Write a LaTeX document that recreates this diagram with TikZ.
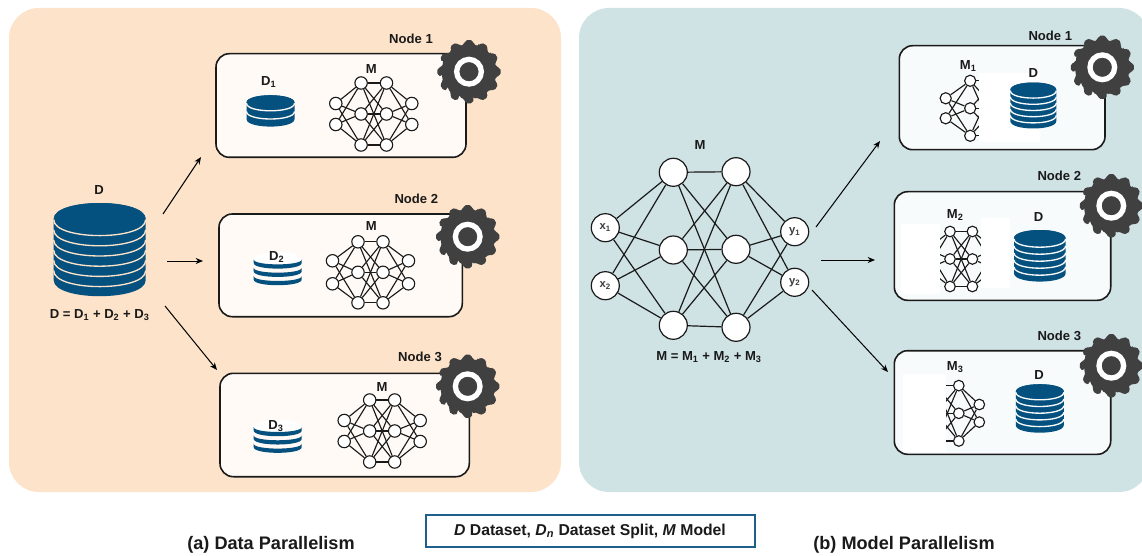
\documentclass[tikz,border=0pt]{standalone}
\usepackage{fontspec}
\setmainfont{Liberation Sans}
\usetikzlibrary{arrows.meta}
\definecolor{panelL}{HTML}{FDE3CA}
\definecolor{panelR}{HTML}{CFE2E4}
\definecolor{boxL}{HTML}{FFFAF6}
\definecolor{boxR}{HTML}{F8FBFB}
\definecolor{dbblue}{HTML}{04507F}
\definecolor{gearc}{HTML}{404040}
\definecolor{inkc}{HTML}{1A1A1A}
\definecolor{legendc}{HTML}{1F5F8B}
\tikzset{
  panel/.style={rectangle,rounded corners=22.5pt,inner sep=0pt,outer sep=0pt},
  nodebox/.style={rectangle,rounded corners=10pt,draw=inkc,line width=1.2pt,inner sep=0pt},
  neuron/.style={circle,draw=inkc,fill=white,inner sep=0pt},
  synapse/.style={draw=inkc},
  lab/.style={font=\bfseries\fontsize{9.8}{11}\selectfont,text=inkc,inner sep=0pt,anchor=center},
  captiontext/.style={font=\bfseries\fontsize{13.6}{16}\selectfont,text=inkc,inner sep=0pt},
  iolabel/.style={font=\bfseries\fontsize{8.4}{10}\selectfont,text=inkc!85!white,inner sep=0pt},
  flow/.style={draw=black,line width=0.75pt,-{Stealth[length=5.5pt,width=4.5pt]}},
  maskrect/.style={fill=white,draw=none},
}
% box from corner coordinates
\newcommand{\mybox}[7]{% name, x1,y1,x2,y2, fill, style
  \pgfmathsetmacro{\bw}{(#4-#2)*0.75}\pgfmathsetmacro{\bh}{(#5-#3)*0.75}
  \node[#7,fill=#6,minimum width=\bw pt,minimum height=\bh pt] (#1) at ({(#2+#4)/2},{(#3+#5)/2}) {};
}
% network: prefix, cx, cy, hx (inner half gap), ox (outer), vy (vertical), sy (side half), radius, line width
\newcommand{\mynet}[9]{%
  \pgfmathsetmacro{\nd}{#8*1.5}
  \begin{scope}[every node/.style={neuron,minimum size=\nd pt,line width=#9}]
    \node (#1a1) at ({#2-#5},{#3-#7}) {};
    \node (#1a2) at ({#2-#5},{#3+#7}) {};
    \node (#1b1) at ({#2-#4},{#3-#6}) {};
    \node (#1b2) at ({#2-#4},{#3}) {};
    \node (#1b3) at ({#2-#4},{#3+#6}) {};
    \node (#1c1) at ({#2+#4},{#3-#6}) {};
    \node (#1c2) at ({#2+#4},{#3}) {};
    \node (#1c3) at ({#2+#4},{#3+#6}) {};
    \node (#1d1) at ({#2+#5},{#3-#7}) {};
    \node (#1d2) at ({#2+#5},{#3+#7}) {};
  \end{scope}
  \foreach \p/\qlist in {a1/{b1,b2,b3},a2/{b1,b2,b3},b1/{c1,c2,c3},b2/{c1,c2,c3},b3/{c1,c2,c3},c1/{d1,d2},c2/{d1,d2},c3/{d1,d2}}{
    \foreach \q in \qlist { \draw[synapse,line width=#9] (#1\p) -- (#1\q); }
  }
}
% cylinder: cx, cy, rx, ry, n, spacing, top fill, separator colour
\newcommand{\mycyl}[8]{%
  \pgfmathsetmacro{\cyb}{#2+#5*#6}
  \pgfmathsetmacro{\cyk}{#4*1.333}
  \fill[dbblue] ({#1-#3},{#2}) .. controls ({#1-#3},{#2-\cyk}) and ({#1+#3},{#2-\cyk}) .. ({#1+#3},{#2})
     -- ({#1+#3},{\cyb}) .. controls ({#1+#3},{\cyb+\cyk}) and ({#1-#3},{\cyb+\cyk}) .. ({#1-#3},{\cyb}) -- cycle;
  \fill[#7] ({#1-#3},{#2}) .. controls ({#1-#3},{#2-\cyk}) and ({#1+#3},{#2-\cyk}) .. ({#1+#3},{#2})
     .. controls ({#1+#3},{#2+\cyk}) and ({#1-#3},{#2+\cyk}) .. ({#1-#3},{#2}) -- cycle;
  \pgfmathtruncatemacro{\cyl}{#5-1}
  \foreach \i in {0,...,\cyl}{
    \pgfmathsetmacro{\yy}{#2+\i*#6+0.6}
    \draw[#8,line width=1pt] ({#1-#3},{\yy}) .. controls ({#1-#3},{\yy+\cyk}) and ({#1+#3},{\yy+\cyk}) .. ({#1+#3},{\yy});
  }
}
% pale stack: white top and three blue crescents. cx, cy of top
\newcommand{\mybands}[2]{%
  \fill[white] ({#1-24},{#2}) .. controls ({#1-24},{#2-10.6}) and ({#1+24},{#2-10.6}) .. ({#1+24},{#2})
     .. controls ({#1+24},{#2+10.6}) and ({#1-24},{#2+10.6}) .. ({#1-24},{#2}) -- cycle;
  \foreach \i in {0,1,2}{
    \pgfmathsetmacro{\yy}{#2+3+\i*8.3}
    \fill[dbblue] ({#1-24},{\yy}) .. controls ({#1-24},{\yy+7.5}) and ({#1+24},{\yy+7.5}) .. ({#1+24},{\yy})
       -- ({#1+24},{\yy-3.5}) .. controls ({#1+24},{\yy+3}) and ({#1-24},{\yy+3}) .. ({#1-24},{\yy-3.5}) -- cycle;
  }
}
% gear: name, cx, cy
\newcommand{\mygear}[3]{%
  \begin{scope}[shift={(#2,#3)}]
    \fill[gearc,rounded corners=1.5pt] (-10:27.5) foreach \a in {0,30,...,330}{
        -- ({\a-9.5}:27.5) -- ({\a-7}:31.8) -- ({\a+7}:31.8) -- ({\a+9.5}:27.5) -- ({\a+20.5}:27.5)
      } -- cycle;
    \node[circle,draw=white,line width=4pt,fill=gearc,minimum size=18.5pt,inner sep=0pt] (#1) at (0,0) {};
  \end{scope}
}
\begin{document}
\begin{tikzpicture}[x=0.75pt,y=-0.75pt]
\useasboundingbox (0,0) rectangle (1142,556);
\fill[white] (0,0) rectangle (1142,556);
\mybox{panelA}{9}{8}{561}{492}{panelL}{panel}
\mybox{panelB}{579}{8}{1149}{492}{panelR}{panel}

% --- left side ---
\mycyl{99.7}{219}{46}{16}{6}{10.2}{dbblue}{panelL}
\node[lab] (lD) at (99,189.7) {D};
\node[lab] (lDeq) at (99.7,315) {D = D\textsubscript{1} + D\textsubscript{2} + D\textsubscript{3}};

\mybox{boxA}{216}{53.7}{466}{157.3}{boxL}{nodebox}
\mybox{boxB}{219}{214}{462.3}{316.7}{boxL}{nodebox}
\mybox{boxC}{220}{373.3}{469.3}{476.7}{boxL}{nodebox}

\mycyl{270.5}{102.7}{24}{7.5}{2}{8.2}{dbblue}{boxL}
\node[lab] (lD1) at (268.7,82.3) {D\textsubscript{1}};
\node[lab] (lMa) at (371.3,68.7) {M};
\mynet{na}{373.8}{114}{12.7}{38}{31}{10.5}{6.2}{0.85pt}

\mybands{277.7}{260}
\node[lab] (lD2) at (276.7,257.3) {D\textsubscript{2}};
\node[lab] (lMb) at (371.3,226) {M};
\mynet{nb}{370.5}{272.3}{12.5}{38}{30.5}{11.5}{6.2}{0.85pt}

\mybands{277.7}{427.6}
\node[lab] (lD3) at (276,426) {D\textsubscript{3}};
\node[lab] (lMc) at (382,387.5) {M};
\mynet{nc}{382.2}{431}{12.5}{38}{31}{10.5}{6.2}{0.85pt}

\node[lab] (lN1) at (411,39) {Node 1};
\node[lab] (lN2) at (416.3,199) {Node 2};
\node[lab] (lN3) at (420,357) {Node 3};
\mygear{gA}{469}{71.7}
\mygear{gB}{467.7}{236.7}
\mygear{gC}{467.7}{386.3}

\coordinate (a1s) at (163,214); \coordinate (a1e) at (201,157);
\coordinate (a2s) at (167,261); \coordinate (a2e) at (203,261);
\coordinate (a3s) at (165,306); \coordinate (a3e) at (217,370);
\draw[flow] (a1s) -- (a1e);
\draw[flow] (a2s) -- (a2e);
\draw[flow] (a3s) -- (a3e);

% --- right side: main network ---
\begin{scope}[every node/.style={neuron,minimum size=21pt,line width=0.9pt}]
\node (x1) at (605.3,227.7) {};
\node (x2) at (605.3,285.7) {};
\node (h1) at (673.3,172.3) {};
\node (h2) at (673.3,250) {};
\node (h3) at (673.3,325.3) {};
\node (k1) at (736,171.7) {};
\node (k2) at (736,249.3) {};
\node (k3) at (736,327.3) {};
\node (y1) at (794.7,231.7) {};
\node (y2) at (794.7,282.3) {};
\end{scope}
\foreach \p in {x1,x2}{\foreach \q in {h1,h2,h3}{\draw[synapse,line width=0.9pt] (\p) -- (\q);}}
\foreach \p in {h1,h2,h3}{\foreach \q in {k1,k2,k3}{\draw[synapse,line width=0.9pt] (\p) -- (\q);}}
\foreach \p in {k1,k2,k3}{\foreach \q in {y1,y2}{\draw[synapse,line width=0.9pt] (\p) -- (\q);}}
\node[iolabel] (lx1) at (x1) {x\textsubscript{1}};
\node[iolabel] (lx2) at (x2) {x\textsubscript{2}};
\node[iolabel] (ly1) at (y1) {y\textsubscript{1}};
\node[iolabel] (ly2) at (y2) {y\textsubscript{2}};
\node[lab] (rM) at (700,144.7) {M};
\node[lab] (rMeq) at (709,356.7) {M = M\textsubscript{1} + M\textsubscript{2} + M\textsubscript{3}};

\coordinate (b1s) at (816,227); \coordinate (b1e) at (880,141);
\coordinate (b2s) at (821,260); \coordinate (b2e) at (875,260);
\coordinate (b3s) at (812,290); \coordinate (b3e) at (888,372);
\draw[flow] (b1s) -- (b1e);
\draw[flow] (b2s) -- (b2e);
\draw[flow] (b3s) -- (b3e);

% --- right side: nodes ---
\mybox{boxD}{899.3}{45.7}{1105}{149.7}{boxR}{nodebox}
\mybox{boxE}{894.3}{191.7}{1110.7}{300.3}{boxR}{nodebox}
\mybox{boxF}{894.3}{350.7}{1110.7}{454.3}{boxR}{nodebox}

\mynet{nd}{982.7}{108.3}{12.5}{37}{27.5}{10}{5.6}{0.85pt}
\fill[maskrect] (979,73.3) rectangle (1040,142.3);
\mycyl{1033.3}{90}{23}{7.5}{5}{6.2}{dbblue}{boxR}
\node[lab] (lM1) at (968.3,65.7) {M\textsubscript{1}};
\node[lab] (lDd) at (1033.3,72.7) {D};

\mynet{ne}{961.2}{259}{11.2}{34}{27.5}{10}{5.3}{0.85pt}
\fill[maskrect] (901,224.3) rectangle (940,293.7);
\fill[maskrect] (981,217.7) rectangle (1010,287.7);
\mycyl{1039.8}{238.3}{25.8}{8.3}{5}{7}{dbblue}{boxR}
\node[lab] (lM2) at (955.3,215) {M\textsubscript{2}};
\node[lab] (lDe) at (1038.7,217.3) {D};

\mynet{nf}{947.3}{413.3}{11.5}{32}{27.7}{8.8}{5.3}{0.85pt}
\fill[maskrect] (902.7,374) rectangle (946,452);
\mycyl{1039.8}{391.7}{24}{7.5}{5}{6.7}{dbblue}{boxR}
\node[lab] (lM3) at (955.3,367) {M\textsubscript{3}};
\node[lab] (lDf) at (1039,374.7) {D};

\node[lab] (lN4) at (1050.3,36) {Node 1};
\node[lab] (lN5) at (1059.3,175.7) {Node 2};
\node[lab] (lN6) at (1059.3,336.3) {Node 3};
\mygear{gD}{1102.3}{67.3}
\mygear{gE}{1111.3}{205.7}
\mygear{gF}{1111.3}{365.7}

% --- captions ---
\mybox{legend}{426}{515}{755}{547}{white}{draw=legendc,line width=1pt,inner sep=0pt}
\node[lab,font=\bfseries\fontsize{11.8}{13}\selectfont] (legendt) at (590,531) {\textit{D} Dataset, \textit{D\textsubscript{n}} Dataset Split, \textit{M} Model};
\node[captiontext] (capa) at (271,545) {(a) Data Parallelism};
\node[captiontext] (capb) at (904,545) {(b) Model Parallelism};
\end{tikzpicture}
\end{document}
